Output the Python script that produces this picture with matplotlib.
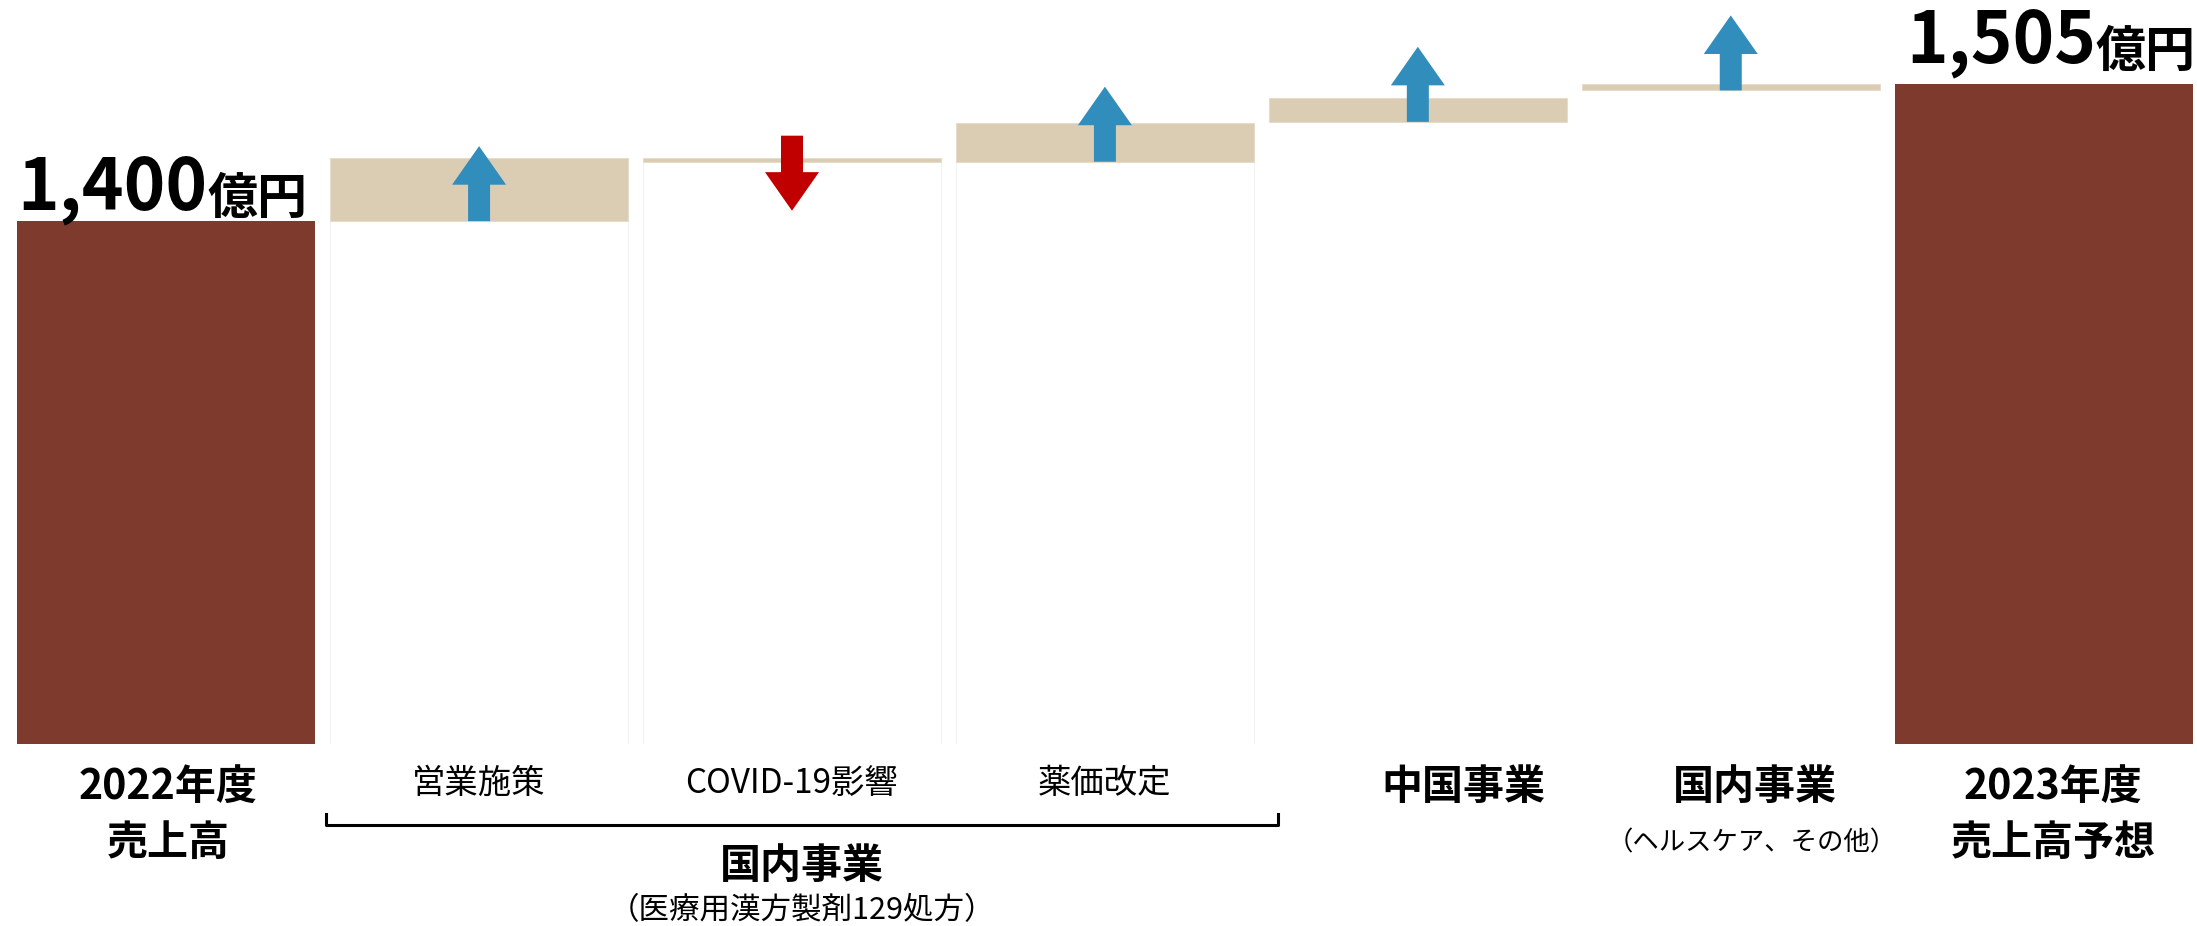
import matplotlib
matplotlib.use('Agg')
import matplotlib.pyplot as plt
from matplotlib.patches import FancyArrow
from matplotlib.lines import Line2D
from matplotlib.transforms import blended_transform_factory

plt.rcParams['font.family'] = ['Noto Sans CJK JP', 'DejaVu Sans']

# 売上高 (億円)
start_total = 1400
end_total = 1505
start_label = ['2022年度', '売上高']
end_label = ['2023年度', '売上高予想']

# 増減要因: 各ステップの下端・上端 (億円)
step_names = ['営業施策', 'COVID-19影響', '薬価改定', '中国事業', '国内事業']
step_notes = ['', '', '', '', '（ヘルスケア、その他）']
step_low = [1400, 1445.5, 1445.5, 1476, 1500]
step_high = [1448, 1448, 1475, 1494, 1505]
step_dir = ['up', 'down', 'up', 'up', 'up']

group_name = '国内事業'
group_note = '（医療用漢方製剤129処方）'

BROWN = '#7f3a2e'
TAN = '#dbcdb3'
BLUE = '#318dbb'
RED = '#c00000'

W, H, DPI = 2197, 926, 100
fig = plt.figure(figsize=(W / DPI, H / DPI), dpi=DPI)
ax = fig.add_axes([0, 0.1965, 1, 0.8035])
ax.set_xlim(-0.531, 6.490)
ax.set_ylim(1000, 1569.2)
ax.axis('off')

bw = 0.952
n = len(step_names)
xs = list(range(n + 2))

# 両端の合計
ax.bar([xs[0], xs[-1]], [start_total - 1000, end_total - 1000], bottom=1000,
       width=bw, color=BROWN, lw=0)

# ステップ下の白い台 (うっすら枠線)
for i in range(3):
    ax.bar(xs[i + 1], step_low[i] - 1000, bottom=1000, width=bw,
           color='white', edgecolor='#f2f2f2', lw=0.7)

# ステップの増減
for i in range(n):
    ax.bar(xs[i + 1], step_high[i] - step_low[i], bottom=step_low[i],
           width=bw, color=TAN, edgecolor='#e6dccb', lw=0.8)

# 矢印
L = 57.4
for i in range(n):
    x = xs[i + 1]
    if step_dir[i] == 'up':
        y0, dy, c = step_low[i], L, BLUE
    else:
        y0, dy, c = step_high[i] + 17.4, -L, RED
    ax.add_patch(FancyArrow(x, y0, 0, dy, width=0.0703, head_width=0.1726,
                            head_length=29.5, length_includes_head=True,
                            color=c, lw=0, zorder=3))

# 合計値ラベル
def total_label(x, val, dx_pt, dy_pt):
    t = ax.annotate(f'{val:,}', xy=(x - bw / 2, val), xytext=(dx_pt, dy_pt),
                    textcoords='offset points', fontsize=51, fontweight='bold',
                    ha='left', va='baseline')
    ax.annotate('億円', xy=(1, 0), xycoords=t, fontsize=36, fontweight='bold',
                ha='left', va='bottom')

total_label(xs[0], start_total, 0, 8.6)
total_label(xs[-1], end_total, 8, 15.8)

# 下部ラベル
tr = blended_transform_factory(ax.transData, fig.transFigure)


def fy(px):
    return 1 - px / H


ax.text(xs[0] + 0.006, fy(787), start_label[0], transform=tr, ha='center',
        va='center', fontsize=29.5, fontweight='bold')
ax.text(xs[0] + 0.006, fy(843), start_label[1], transform=tr, ha='center',
        va='center', fontsize=29.5, fontweight='bold')
ax.text(xs[-1] + 0.03, fy(787), end_label[0], transform=tr, ha='center',
        va='center', fontsize=29.5, fontweight='bold')
ax.text(xs[-1] + 0.03, fy(843), end_label[1], transform=tr, ha='center',
        va='center', fontsize=29.5, fontweight='bold')

for i in range(3):
    ax.text(xs[i + 1], fy(783), step_names[i], transform=tr, ha='center',
            va='center', fontsize=24)

label_dx = [0, 0, 0, 0.147, 0.077]
for i in range(3, n):
    ax.text(xs[i + 1] + label_dx[i], fy(787), step_names[i], transform=tr,
            ha='center', va='center', fontsize=29.5, fontweight='bold')
ax.text(xs[5] + 0.067, fy(843), step_notes[4], transform=tr, ha='center',
        va='center', fontsize=19)

# 国内事業のくくり
bx0, bx1 = 0.511, 3.553
fig.add_artist(Line2D([bx0, bx0, bx1, bx1], [fy(814), fy(825), fy(825), fy(814)],
                      transform=tr, color='black', lw=2.2, clip_on=False))
gx = (bx0 + bx1) / 2
ax.text(gx, fy(866), group_name, transform=tr, ha='center', va='center',
        fontsize=29.5, fontweight='bold')
ax.text(gx, fy(911), group_note, transform=tr, ha='center', va='center',
        fontsize=22)

fig.savefig('out.png', dpi=DPI, facecolor='white')
